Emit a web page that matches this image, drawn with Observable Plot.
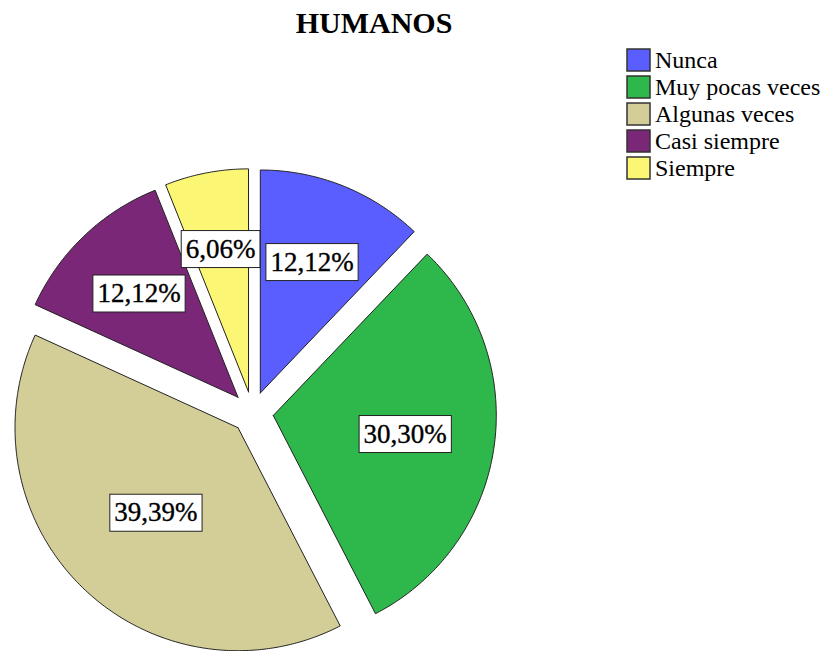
<!DOCTYPE html>
<html><head><meta charset="utf-8">
<script src="https://cdn.jsdelivr.net/npm/d3@7"></script>
<script src="https://cdn.jsdelivr.net/npm/@observablehq/plot@0.6"></script>
<style>
body{margin:0;background:#fff}
#wrap{position:relative;width:827px;height:651px;overflow:hidden}
#wrap svg{position:absolute;left:0;top:0}
.t{position:absolute;font-family:"Liberation Serif","Times New Roman",serif;line-height:1;white-space:nowrap;color:#000}
</style>
</head><body><div id="wrap"></div>
<script>
const title = "HUMANOS";
const categories = ["Nunca","Muy pocas veces","Algunas veces","Casi siempre","Siempre"];
const percents = [12.12, 30.30, 39.39, 12.12, 6.06];
const colors = ["#5a5eff","#2eb84b","#d3ce97","#7a2777","#fbf674"];

// layout
const W = 827, H = 651;
const cx = 252, cy = 412, R = 223, explode = 21;
const labelFracs = [0.63, 0.6, 0.53, 0.64, 0.65];
const serif = "'Liberation Serif','Times New Roman',serif";
const labelSize = 27, legendSize = 24, titleSize = 30;

const total = d3.sum(percents);
let acc = 0;
const slices = categories.map((c, i) => {
  const a0 = acc / total * 2 * Math.PI; acc += percents[i];
  const a1 = acc / total * 2 * Math.PI;
  const am = (a0 + a1) / 2;
  const ox = cx + explode * Math.sin(am), oy = cy - explode * Math.cos(am);
  const f = labelFracs[i];
  return {c, i, a0, a1, am, ox, oy, v: percents[i],
    label: percents[i].toFixed(2).replace(".", ",") + "%",
    lx: ox + f * R * Math.sin(am), ly: oy - f * R * Math.cos(am)};
});
const pts = [];
for (const s of slices) {
  pts.push({c: s.c, x: s.ox, y: s.oy});
  const n = Math.max(2, Math.ceil((s.a1 - s.a0) / 0.01));
  for (let k = 0; k <= n; k++) {
    const a = s.a0 + (s.a1 - s.a0) * k / n;
    pts.push({c: s.c, x: s.ox + R * Math.sin(a), y: s.oy - R * Math.cos(a)});
  }
  pts.push({c: s.c, x: s.ox, y: s.oy});
}
const ctx = document.createElement("canvas").getContext("2d");
ctx.font = labelSize + "px " + serif;
for (const s of slices) s.w = ctx.measureText(s.label).width + 9;

const rowStep = 27;
const legendRows = categories.map((c, i) => ({c, i, y1: 49 + i * rowStep, y2: 71 + i * rowStep}));

const chart = Plot.plot({
  width: W, height: H, margin: 0,
  x: {domain: [0, W], range: [0, W], axis: null},
  y: {domain: [0, H], range: [0, H], axis: null},
  color: {domain: categories, range: colors},
  style: {background: "#fff"},
  marks: [
    Plot.line(pts, {x: "x", y: "y", z: "c", fill: "c", stroke: "#222", strokeWidth: 1, curve: "linear"}),
    Plot.rect(slices, {x1: d => d.lx - d.w / 2, x2: d => d.lx + d.w / 2, y1: d => d.ly - 18.5, y2: d => d.ly + 18.5, fill: "white", stroke: "#222", strokeWidth: 1}),
    Plot.rect(legendRows, {x1: () => 627, x2: () => 650, y1: "y1", y2: "y2", fill: "c", stroke: "#333", strokeWidth: 1.5})
  ]
});
const wrap = document.getElementById("wrap");
wrap.append(chart);
const xs = chart.scale("x"), ys = chart.scale("y");

function addText(str, size, x, baseline, opts = {}) {
  const d = document.createElement("div");
  d.className = "t";
  d.textContent = str;
  d.style.fontSize = size + "px";
  d.style.left = x + "px";
  d.style.top = (baseline - 0.8375 * size) + "px";
  if (opts.center) d.style.transform = "translateX(-50%)";
  if (opts.bold) d.style.fontWeight = "bold";
  if (opts.stroke) d.style.webkitTextStroke = opts.stroke;
  wrap.append(d);
}
// title
addText(title, titleSize, xs.apply(374), ys.apply(33), {center: true, bold: true});
// slice labels
for (const s of slices) addText(s.label, labelSize, xs.apply(s.lx), ys.apply(s.ly) + 0.338 * labelSize, {center: true, stroke: "0.35px #000"});
// legend labels
for (const r of legendRows) addText(r.c, legendSize, xs.apply(655), ys.apply(r.y1 + 19));
</script>
</body></html>
